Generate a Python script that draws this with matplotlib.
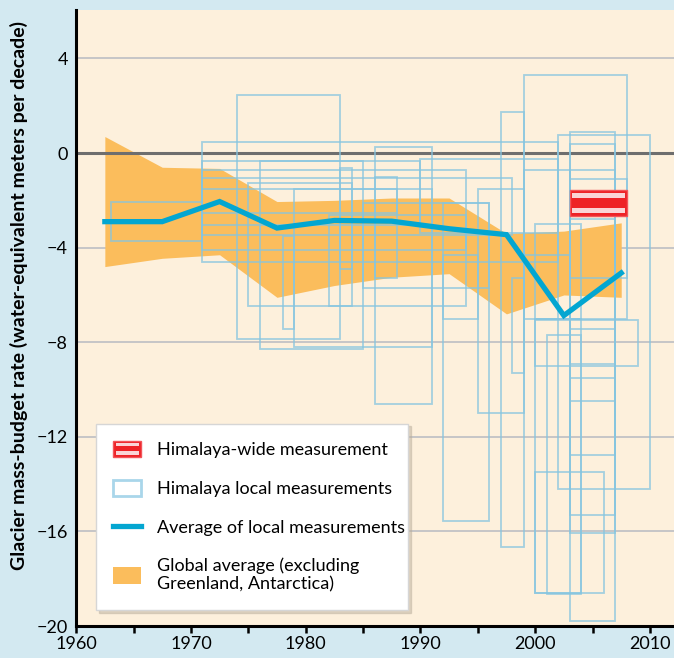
import numpy as np
import matplotlib.pyplot as plt
from matplotlib.patches import Rectangle
from matplotlib.lines import Line2D
from matplotlib.legend_handler import HandlerBase
from matplotlib.ticker import MultipleLocator

plt.rcParams['font.family'] = ['Lato', 'DejaVu Sans']

# Global average band (excluding Greenland, Antarctica)
global_years = [1962.5, 1967.5, 1972.5, 1977.5, 1982.5, 1987.5, 1992.5, 1997.5, 2002.5, 2007.5]
global_upper = [0.7, -0.6, -0.65, -2.05, -2.0, -1.9, -1.9, -3.4, -3.3, -2.95]
global_lower = [-4.8, -4.45, -4.3, -6.1, -5.6, -5.25, -5.1, -6.8, -6.0, -6.1]

# Average of local measurements
avg_years = [1962.5, 1967.5, 1972.5, 1977.5, 1982.5, 1987.5, 1992.5, 1997.5, 2002.5, 2007.5]
avg_values = [-2.9, -2.9, -2.05, -3.17, -2.85, -2.88, -3.2, -3.45, -6.87, -5.07]

# Himalaya local measurements: period and range
local_start = [1963, 1971, 1971, 1971, 1971, 1971, 1974, 1975, 1976, 1978, 1979, 1982,
               1986, 1986, 1985, 1992, 1992, 1995, 1997, 1998, 1999, 1990, 2002, 2003,
               2003, 2003, 2003, 2003, 2003, 2000, 2001, 2000, 2000, 2003, 1999, 2000, 1983]
local_end = [1971, 2002, 1990, 1994, 1998, 1988, 1983, 1984, 1985, 1979, 1991, 1994,
             1988, 1991, 1996, 1996, 1995, 1999, 1999, 1999, 2008, 2002, 2010, 2007,
             2007, 2007, 2007, 2007, 2007, 2004, 2004, 2006, 2009, 2008, 2003, 2004, 1984]
local_low = [-3.7, -4.6, -3.05, -4.1, -3.45, -2.55, -7.85, -6.45, -8.3, -7.45, -8.2, -6.45,
             -5.3, -10.6, -5.7, -15.55, -7.0, -11.0, -16.65, -9.3, -7.0, -3.4, -14.2, -19.8,
             -8.9, -10.5, -12.75, -16.05, -15.3, -18.6, -18.65, -18.6, -9.0, -5.3, -4.3, -7.0, -4.9]
local_high = [-2.05, 0.45, -0.35, -0.7, -1.05, -1.5, 2.45, -1.25, -0.35, -3.5, -1.5, -2.6,
              -1.0, 0.25, -2.1, -2.1, -4.3, -1.5, 1.75, -5.3, 3.3, -0.27, 0.75, 0.9,
              0.4, -0.7, -2.8, -7.45, -9.5, -7.0, -7.7, -13.5, -7.05, -1.1, -0.7, -3.0, -0.65]

# Himalaya-wide measurement
wide_start, wide_end = 2003, 2008
wide_low, wide_high = -2.65, -1.58

RED = '#ee2226'
PINK = '#fad4d6'
BLUE = '#03a6d1'
LIGHT_BLUE = '#86c5e0'
ORANGE = '#fbbd5c'


def striped_box(ax, x0, x1, y0, y1):
    h = y1 - y0
    w = x1 - x0
    ax.add_patch(Rectangle((x0, y0), w, h, facecolor=RED, edgecolor='#f2555a', lw=1, zorder=5))
    for f in (0.1, 0.71):
        ax.add_patch(Rectangle((x0 + 0.04 * w, y0 + f * h), 0.92 * w, 0.19 * h,
                               facecolor=PINK, edgecolor='none', zorder=6))


class StripedBoxHandler(HandlerBase):
    def create_artists(self, legend, orig_handle, xdescent, ydescent, width, height, fontsize, trans):
        x0, y0 = -xdescent, -ydescent
        box = Rectangle((x0, y0), width, height, facecolor=RED, edgecolor='#f2555a', lw=1, transform=trans)
        s1 = Rectangle((x0 + 0.1 * width, y0 + 0.65 * height), 0.82 * width, 0.22 * height,
                       facecolor=PINK, lw=0, transform=trans)
        s2 = Rectangle((x0 + 0.1 * width, y0 + 0.14 * height), 0.82 * width, 0.22 * height,
                       facecolor=PINK, lw=0, transform=trans)
        return [box, s1, s2]


fig = plt.figure(figsize=(6.74, 6.58), dpi=100)
fig.patch.set_facecolor('#d3e9f1')
ax = fig.add_axes([0.113, 0.0486, 0.887, 0.9362])
ax.set_facecolor('#fdf0dc')

ax.set_xlim(1960, 2012.1)
ax.set_ylim(-20, 6.05)

# grid lines
for y in [4, -4, -8, -12, -16]:
    ax.axhline(y, color='#b7bac1', lw=1.1, zorder=0.5)

ax.fill_between(global_years, global_lower, global_upper, color=ORANGE, lw=0, zorder=1)
ax.axhline(0, color='#6e6e6e', lw=2.2, zorder=1.5)

for x0, x1, lo, hi in zip(local_start, local_end, local_low, local_high):
    ax.add_patch(Rectangle((x0, lo), x1 - x0, hi - lo, fill=False, edgecolor=LIGHT_BLUE,
                           lw=1.3, alpha=0.75, zorder=2))

ax.plot(avg_years, avg_values, color=BLUE, lw=3.8, solid_joinstyle='miter', zorder=4)

striped_box(ax, wide_start, wide_end, wide_low, wide_high)

# axes styling
for side in ['top', 'right']:
    ax.spines[side].set_visible(False)
ax.spines['left'].set_linewidth(2.2)
ax.spines['bottom'].set_linewidth(2.2)
ax.xaxis.set_major_locator(MultipleLocator(10))
ax.xaxis.set_minor_locator(MultipleLocator(5))
ax.yaxis.set_major_locator(MultipleLocator(4))
ax.tick_params(axis='x', which='both', direction='out', length=5, width=1.8, labelsize=13, pad=2)
ax.tick_params(axis='y', length=0, labelsize=13, pad=6)
ax.set_ylabel('Glacier mass-budget rate (water-equivalent meters per decade)',
              fontsize=14, fontweight='bold')
ax.yaxis.set_label_coords(-0.081, 0.536)

handles = [
    Rectangle((0, 0), 1, 1),
    Rectangle((0, 0), 1, 1, facecolor='white', edgecolor='#a9d6ea', lw=2),
    Line2D([], [], color=BLUE, lw=3.8),
    Rectangle((0, 0), 1, 1, facecolor=ORANGE, edgecolor='none'),
]
labels = ['Himalaya-wide measurement', 'Himalaya local measurements',
          'Average of local measurements', 'Global average (excluding\nGreenland, Antarctica)']
leg = ax.legend(handles, labels, loc='lower left', bbox_to_anchor=(0.0334, 0.026, 0.522, 0.3),
                mode='expand', borderaxespad=0, fontsize=13, frameon=True, fancybox=False,
                handlelength=1.55, handleheight=1.0, handletextpad=0.85, labelspacing=1.2,
                borderpad=0.95, shadow={'color': '#b8ad9a', 'alpha': 0.45},
                handler_map={handles[0]: StripedBoxHandler()})
leg.get_frame().set_edgecolor('#d6d6d6')
leg.get_frame().set_linewidth(1)
leg.set_zorder(10)

fig.savefig('out.png', dpi=100, facecolor=fig.get_facecolor())
